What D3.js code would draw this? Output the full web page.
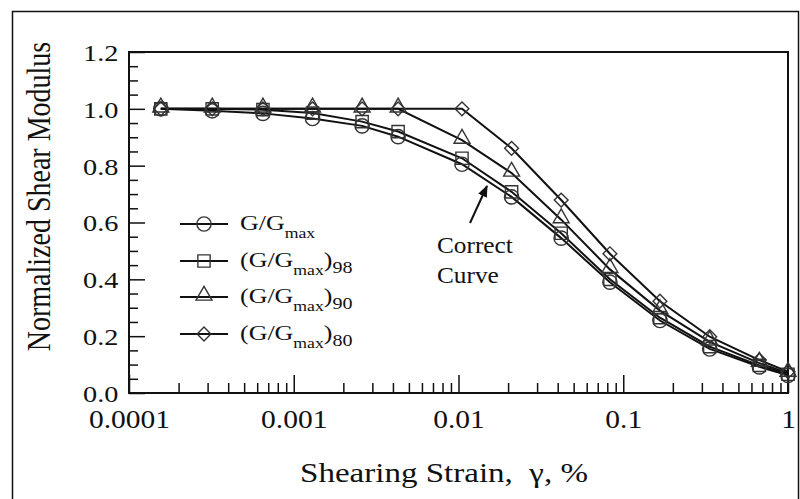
<!DOCTYPE html>
<html>
<head>
<meta charset="utf-8">
<script src="https://cdn.jsdelivr.net/npm/d3@7"></script>
<style>
  body { margin: 0; background: #fff; }
  text { font-family: "Liberation Serif", "Times New Roman", serif; fill: #111; }
</style>
</head>
<body>
<div id="chart"></div>
<script>
var w = 800;
var h = 499;

// shearing strain (%) at each test point
var strain = [0.000156, 0.00032, 0.00065, 0.0013, 0.0026, 0.0043, 0.0105, 0.021, 0.042, 0.083, 0.167, 0.335, 0.67, 1.0];
var gCorrect = [1.0, 0.993, 0.984, 0.966, 0.94, 0.902, 0.805, 0.69, 0.545, 0.39, 0.255, 0.155, 0.092, 0.062];
var g98 = [1.0, 1.0, 0.997, 0.985, 0.955, 0.92, 0.826, 0.708, 0.562, 0.40, 0.265, 0.163, 0.097, 0.066];
var g90 = [1.0, 1.0, 1.0, 1.0, 1.0, 1.0, 0.89, 0.774, 0.61, 0.435, 0.29, 0.18, 0.105, 0.07];
var g80 = [1.0, 1.0, 1.0, 1.0, 1.0, 1.0, 1.0, 0.861, 0.679, 0.49, 0.323, 0.198, 0.116, 0.075];

var seriesSubs = ["", "98", "90", "80"];
var seriesMarks = ["circle", "square", "triangle", "diamond"];

var xTickValues = [0.0001, 0.001, 0.01, 0.1, 1];
var xTickLabels = ["0.0001", "0.001", "0.01", "0.1", "1"];
var yTickValues = [0, 0.2, 0.4, 0.6, 0.8, 1.0, 1.2];
var yTickLabels = ["0.0", "0.2", "0.4", "0.6", "0.8", "1.0", "1.2"];

var plotLeft = 129, plotRight = 788, plotTop = 52, plotBottom = 393;
var stretch = 1.18;   // the source figure's lettering is a bit wide

var svg = d3.select("#chart")
            .append("svg")
            .attr("width", w)
            .attr("height", h);

// outer figure border
svg.append("rect")
    .attr("x", 12.5).attr("y", 11.5)
    .attr("width", 786).attr("height", 520)
    .attr("fill", "none").attr("stroke", "#111").attr("stroke-width", 1.5);

var x = d3.scaleLog().domain([0.0001, 1]).range([plotLeft, plotRight]);
var y = d3.scaleLinear().domain([0, 1.2]).range([plotBottom, plotTop]);

// minor ticks
var xMinor = [];
[0.0001, 0.001, 0.01, 0.1].forEach(function(d) {
    for (var k = 2; k <= 9; k++) xMinor.push(d * k);
});
var yMinor = d3.range(0.05, 1.2, 0.05).filter(function(v) {
    return Math.abs(v / 0.2 - Math.round(v / 0.2)) > 0.01;
});

svg.append("g")
    .attr("transform", "translate(0," + plotBottom + ")")
    .call(d3.axisBottom(x).tickValues(xMinor).tickSize(-10).tickFormat(""))
    .call(function(g) { g.select(".domain").remove(); });

svg.append("g")
    .attr("transform", "translate(" + plotLeft + ",0)")
    .call(d3.axisLeft(y).tickValues(yMinor).tickSize(-9).tickFormat(""))
    .call(function(g) { g.select(".domain").remove(); });

var xAxis = svg.append("g")
    .attr("transform", "translate(0," + plotBottom + ")")
    .call(d3.axisBottom(x).tickValues(xTickValues).tickSize(-18).tickPadding(17)
        .tickFormat(function(d, i) { return xTickLabels[i]; }));
xAxis.select(".domain").remove();

var yAxis = svg.append("g")
    .attr("transform", "translate(" + plotLeft + ",0)")
    .call(d3.axisLeft(y).tickValues(yTickValues).tickSize(-16).tickPadding(9)
        .tickFormat(function(d, i) { return yTickLabels[i]; }));
yAxis.select(".domain").remove();

svg.selectAll(".tick line").attr("stroke", "#111").attr("stroke-width", 1.5);
svg.selectAll(".tick text")
    .attr("font-family", "Liberation Serif, Times New Roman, serif")
    .attr("fill", "#111")
    .attr("transform", "scale(" + stretch + ",1)");
xAxis.selectAll(".tick text").attr("font-size", 25).attr("dy", "0.71em");
yAxis.selectAll(".tick text").attr("font-size", 24).attr("dy", "0.35em");

// plot frame
svg.append("rect")
    .attr("x", plotLeft).attr("y", plotTop)
    .attr("width", plotRight - plotLeft).attr("height", plotBottom - plotTop)
    .attr("fill", "none").attr("stroke", "#111").attr("stroke-width", 2);

// axis titles
svg.append("text")
    .attr("transform", "translate(50," + ((plotTop + plotBottom) / 2 - 26) + ") scale(" + stretch + ",1) rotate(-90)")
    .attr("text-anchor", "middle")
    .attr("font-size", 28)
    .text("Normalized Shear Modulus");

svg.append("text")
    .attr("transform", "translate(444,482) scale(" + stretch + ",1)")
    .attr("text-anchor", "middle")
    .attr("font-size", 28)
    .attr("xml:space", "preserve")
    .text("Shearing Strain,  \u03b3, %");

// series
var allSeries = [gCorrect, g98, g90, g80];

var line = d3.line()
    .x(function(d, i) { return x(strain[i]); })
    .y(function(d) { return y(d); });

function markPath(type) {
    if (type === "circle") return d3.symbol().type(d3.symbolCircle).size(160)();
    if (type === "square") return d3.symbol().type(d3.symbolSquare).size(150)();
    if (type === "triangle") return d3.symbol().type(d3.symbolTriangle).size(110)();
    return d3.symbol().type(d3.symbolSquare).size(95)();
}
function markRotate(type) { return type === "diamond" ? " rotate(45)" : ""; }
function markShift(type) { return type === "triangle" ? -1.5 : 0; }

allSeries.forEach(function(vals) {
    svg.append("path")
        .datum(vals)
        .attr("d", line)
        .attr("fill", "none")
        .attr("stroke", "#111")
        .attr("stroke-width", 2);
});

allSeries.forEach(function(vals, s) {
    var mark = seriesMarks[s];
    svg.append("g").selectAll("path")
        .data(vals)
        .enter()
        .append("path")
        .attr("d", markPath(mark))
        .attr("transform", function(d, i) {
            return "translate(" + x(strain[i]) + "," + (y(d) + markShift(mark)) + ")" + markRotate(mark);
        })
        .attr("fill", "none")
        .attr("stroke", "#333")
        .attr("stroke-width", 1.4);
});

// legend
var legendY = [224, 261, 297, 334];
var legend = svg.selectAll("g.legend")
    .data(seriesMarks)
    .enter()
    .append("g")
    .attr("class", "legend")
    .attr("transform", function(d, i) { return "translate(0," + legendY[i] + ")"; });

legend.append("line")
    .attr("x1", 180).attr("x2", 228)
    .attr("stroke", "#111").attr("stroke-width", 2);

legend.append("path")
    .attr("d", function(d) { return markPath(d); })
    .attr("transform", function(d) { return "translate(204," + markShift(d) + ")" + markRotate(d); })
    .attr("fill", "none").attr("stroke", "#333").attr("stroke-width", 1.4);

legend.each(function(d, i) {
    var t = d3.select(this).append("text")
        .attr("transform", "translate(240,6) scale(" + stretch + ",1)")
        .attr("font-size", 22);
    t.append("tspan").text(seriesSubs[i] ? "(G/G" : "G/G");
    t.append("tspan").attr("font-size", 15).attr("dy", 8).text("max");
    if (seriesSubs[i]) {
        t.append("tspan").attr("dy", -8).text(")");
        t.append("tspan").attr("font-size", 17).attr("dy", 6).text(seriesSubs[i]);
    }
});

// annotation
svg.append("defs").append("marker")
    .attr("id", "arrow")
    .attr("viewBox", "0 0 10 10")
    .attr("refX", 9).attr("refY", 5)
    .attr("markerWidth", 6).attr("markerHeight", 6)
    .attr("orient", "auto")
    .append("path")
    .attr("d", "M0,1 L10,5 L0,9 z")
    .attr("fill", "#111");

svg.append("line")
    .attr("x1", 470).attr("y1", 223)
    .attr("x2", 487).attr("y2", 186)
    .attr("stroke", "#111").attr("stroke-width", 2)
    .attr("marker-end", "url(#arrow)");

svg.append("text").attr("transform", "translate(437,253) scale(1.1,1)").attr("font-size", 23).text("Correct");
svg.append("text").attr("transform", "translate(437,283) scale(1.1,1)").attr("font-size", 23).text("Curve");
</script>
</body>
</html>
